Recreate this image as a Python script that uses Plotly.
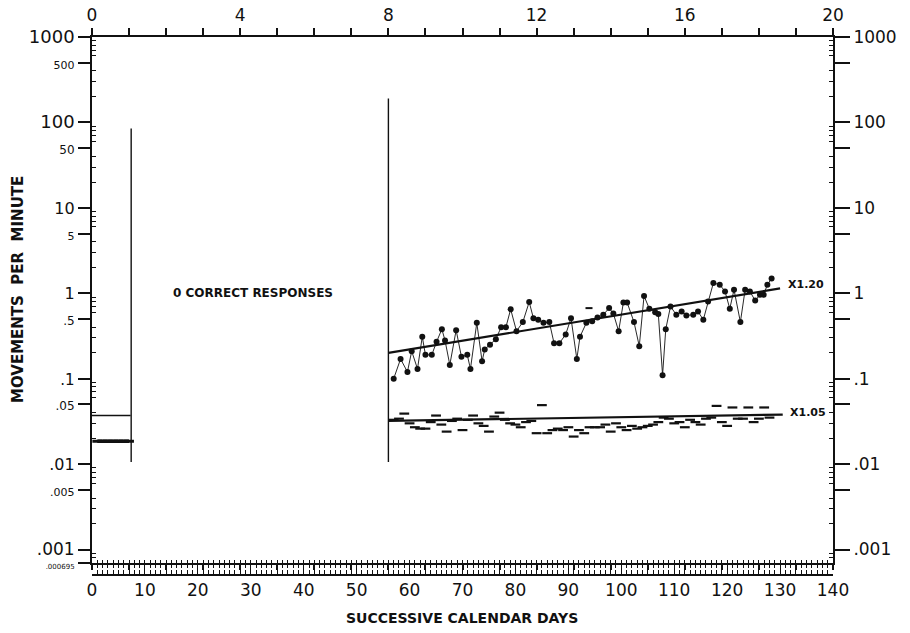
import math
import plotly.graph_objects as go

# ---------------- data ----------------
# correct responses (dots), days and movements per minute
days_correct = [57.0, 58.3, 59.6, 60.4, 61.5, 62.4, 63.0, 64.2, 65.1, 66.1, 66.7, 67.6, 68.8, 69.8,
                70.9, 71.5, 72.7, 73.7, 74.2, 75.2, 76.3, 77.3, 78.2, 79.1, 80.2, 81.4, 82.6, 83.4,
                84.3, 85.3, 86.4, 87.3, 88.3, 89.5, 90.5, 91.6, 92.2, 93.4, 94.5, 95.5, 96.6, 97.7,
                98.5, 99.5, 100.4, 101.1, 102.4, 103.4, 104.3, 105.3, 106.4, 107.0, 107.8, 108.4,
                109.3, 110.4, 111.4, 112.3, 113.6, 114.5, 115.5, 116.4, 117.4, 118.6, 119.6, 120.5,
                121.3, 122.5, 123.4, 124.3, 125.3, 126.2, 126.9, 127.6, 128.4]
rate_correct = [0.10, 0.17, 0.12, 0.21, 0.13, 0.31, 0.19, 0.19, 0.27, 0.38, 0.28, 0.145, 0.37, 0.18,
                0.19, 0.13, 0.45, 0.16, 0.22, 0.25, 0.29, 0.40, 0.40, 0.65, 0.36, 0.46, 0.79, 0.51,
                0.49, 0.45, 0.46, 0.26, 0.26, 0.33, 0.51, 0.17, 0.31, 0.45, 0.47, 0.52, 0.56, 0.67,
                0.58, 0.36, 0.78, 0.78, 0.46, 0.24, 0.93, 0.66, 0.60, 0.57, 0.11, 0.38,
                0.70, 0.56, 0.61, 0.55, 0.56, 0.61, 0.49, 0.80, 1.32, 1.26, 1.05, 0.66,
                1.10, 0.46, 1.10, 1.05, 0.82, 0.96, 0.96, 1.26, 1.49]

# errors (dashes)
days_error = list(range(57, 129))
rate_error = [0.033, 0.034, 0.039, 0.030, 0.027, 0.026, 0.026, 0.031, 0.037, 0.029, 0.024, 0.032,
              0.034, 0.025, 0.033, 0.037, 0.030, 0.028, 0.024, 0.036, 0.040, 0.033, 0.030, 0.029,
              0.027, 0.031, 0.032, 0.023, 0.049, 0.023, 0.025, 0.026, 0.025, 0.027, 0.021, 0.025,
              0.023, 0.027, 0.027, 0.027, 0.029, 0.024, 0.030, 0.027, 0.025, 0.028, 0.026, 0.027,
              0.028, 0.029, 0.031, 0.035, 0.034, 0.030, 0.031, 0.027, 0.033, 0.031, 0.029, 0.034,
              0.035, 0.048, 0.031, 0.028, 0.046, 0.034, 0.034, 0.046, 0.031, 0.034, 0.046, 0.035]

stray_day = [93.9]
stray_rate = [0.67]

# baseline phase (days 0-7)
base_floor_days = [0, 7.3]
base_floor_rate = [0.037, 0.037]
base_error_days = [1, 2, 3, 4, 5, 6, 7]
base_error_rate = [0.0185] * 7

# phase change lines
phase_days = [7.4, 56]
phase_low = [0.0106, 0.0106]
phase_high = [85, 190]

# celeration lines
cel_correct_days = [56, 130]
cel_correct_rate = [0.20, 1.14]
cel_error_days = [56, 130.5]
cel_error_rate = [0.032, 0.038]

# axis labels
left_vals = [1000, 500, 100, 50, 10, 5, 1, 0.5, 0.1, 0.05, 0.01, 0.005, 0.001, 0.000695]
left_text = ["1000", "500", "100", "50", "10", "5", "1", ".5", ".1", ".05", ".01", ".005", ".001", ".000695"]
left_size = [18, 11, 18, 12, 16, 11, 16, 12, 15, 12, 16, 11, 17, 7]
right_vals = [1000, 500, 100, 50, 10, 5, 1, 0.5, 0.1, 0.05, 0.01, 0.005, 0.001]
right_text = ["1000", "", "100", "", "10", "", "1", "", ".1", "", ".01", "", ".001"]
week_vals = list(range(0, 21))
week_text = [str(w) if w % 4 == 0 else "" for w in week_vals]
day_vals = list(range(0, 141, 10))
day_text = [str(d) for d in day_vals]

FONT = "DejaVu Sans"
BLACK = "#111111"
ymin = 0.000695
yrange = [math.log10(ymin), 3]
minor_vals = [m * 10 ** e for e in range(-4, 3) for m in (2, 3, 4, 6, 7, 8, 9) if ymin < m * 10 ** e < 1000]

fig = go.Figure()

# celeration lines
fig.add_trace(go.Scatter(x=cel_correct_days, y=cel_correct_rate, mode="lines",
                         line=dict(color=BLACK, width=2.2)))
fig.add_trace(go.Scatter(x=cel_error_days, y=cel_error_rate, mode="lines",
                         line=dict(color=BLACK, width=2.2)))
# correct dots
fig.add_trace(go.Scatter(x=days_correct, y=rate_correct, mode="lines+markers",
                         line=dict(color=BLACK, width=0.9),
                         marker=dict(symbol="circle", size=6, color=BLACK)))
# errors dashes
fig.add_trace(go.Scatter(x=days_error, y=rate_error, mode="markers",
                         marker=dict(symbol="line-ew", size=7, line=dict(width=2.2, color=BLACK))))
fig.add_trace(go.Scatter(x=stray_day, y=stray_rate, mode="markers",
                         marker=dict(symbol="line-ew", size=5, line=dict(width=2, color=BLACK))))
# baseline
fig.add_trace(go.Scatter(x=base_floor_days, y=base_floor_rate, mode="lines",
                         line=dict(color=BLACK, width=1.6)))
fig.add_trace(go.Scatter(x=base_error_days, y=base_error_rate, mode="lines+markers",
                         line=dict(color=BLACK, width=3.5),
                         marker=dict(symbol="line-ew", size=7, line=dict(width=3, color=BLACK))))
# phase lines
for d, lo, hi in zip(phase_days, phase_low, phase_high):
    fig.add_trace(go.Scatter(x=[d, d], y=[lo, hi], mode="lines",
                             line=dict(color=BLACK, width=1.4)))

# dummy traces so overlay axes are drawn
for xa, ya in [("x2", "y"), ("x3", "y"), ("x4", "y"), ("x", "y2"), ("x", "y3"), ("x", "y4")]:
    fig.add_trace(go.Scatter(x=[None], y=[None], xaxis=xa, yaxis=ya, showlegend=False))

# geometry (pixels)
plot_left, plot_right = 92, 833
plot_top, plot_bottom_axis, paper_bottom = 37, 563, 575
pw = plot_right - plot_left
ph = paper_bottom - plot_top
dom0 = (paper_bottom - plot_bottom_axis) / ph

fig.add_annotation(x=15, y=0, xref="x", yref="y", text="<b>0 CORRECT RESPONSES</b>",
                   showarrow=False, xanchor="left", yanchor="middle",
                   font=dict(family=FONT, size=12, color=BLACK))
fig.add_annotation(x=cel_correct_days[-1] + 1.2, y=math.log10(cel_correct_rate[-1]) + 0.05, xref="x", yref="y",
                   text="<b>X1.20</b>", showarrow=False, xanchor="left", yanchor="middle",
                   font=dict(family=FONT, size=11, color=BLACK))
fig.add_annotation(x=cel_error_days[-1] + 1.0, y=math.log10(cel_error_rate[-1]) + 0.02, xref="x", yref="y",
                   text="<b>X1.05</b>", showarrow=False, xanchor="left", yanchor="middle",
                   font=dict(family=FONT, size=11, color=BLACK))
fig.add_annotation(x=(18 - plot_left) / pw, y=(paper_bottom - 290) / ph, xref="paper", yref="paper",
                   text="MOVEMENTS  PER  MINUTE",
                   showarrow=False, textangle=-90, xanchor="center", yanchor="middle",
                   font=dict(family=FONT, size=15, color=BLACK, weight="bold"))
fig.add_annotation(x=(462 - plot_left) / pw, y=(paper_bottom - 618) / ph, xref="paper", yref="paper",
                   text="SUCCESSIVE CALENDAR DAYS",
                   showarrow=False, xanchor="center", yanchor="middle",
                   font=dict(family=FONT, size=14, color=BLACK, weight="bold"))

tickfont = dict(family=FONT, size=17, color=BLACK)
left_ticktext = [f"<span style='font-size:{s}px'>{t}</span>" for t, s in zip(left_text, left_size)]

fig.update_layout(
    width=910, height=633,
    margin=dict(l=plot_left, r=910 - plot_right, t=plot_top, b=633 - paper_bottom, autoexpand=False),
    paper_bgcolor="white", plot_bgcolor="white", showlegend=False,
    xaxis=dict(range=[0, 140], anchor="y", automargin=False, showgrid=False, zeroline=False, showline=True,
               linecolor=BLACK, linewidth=2, ticks="outside", tickvals=list(range(0, 141, 7)),
               ticklen=5, tickwidth=1.5, tickcolor=BLACK, showticklabels=False,
               minor=dict(dtick=1, ticks="outside", ticklen=3, tickcolor=BLACK, tickwidth=1)),
    xaxis4=dict(range=[0, 140], overlaying="x", anchor="y", automargin=False, showgrid=False, zeroline=False,
                showline=False, ticks="inside", dtick=1, ticklen=3, tickcolor=BLACK,
                showticklabels=False),
    xaxis3=dict(range=[0, 140], overlaying="x", anchor="free", position=0, automargin=False, showgrid=False,
                zeroline=False, showline=True, linecolor=BLACK, linewidth=1.5,
                ticks="inside", tickvals=day_vals, ticktext=day_text, ticklen=6, tickcolor=BLACK,
                tickfont=tickfont,
                minor=dict(dtick=1, ticks="inside", ticklen=4, tickcolor=BLACK)),
    xaxis2=dict(range=[0, 20], overlaying="x", side="top", anchor="y", automargin=False, showgrid=False,
                zeroline=False, showline=True, linecolor=BLACK, linewidth=2.2,
                ticks="outside", tickvals=week_vals, ticktext=week_text, ticklen=7,
                tickcolor=BLACK, tickwidth=1.5, tickfont=tickfont),
    yaxis=dict(type="log", range=yrange, domain=[dom0, 1], anchor="x", automargin=False, showgrid=False,
               zeroline=False, showline=True, linecolor=BLACK, linewidth=2,
               ticks="outside", tickvals=left_vals, ticktext=left_ticktext, ticklen=12,
               tickwidth=2, tickcolor=BLACK, tickfont=tickfont),
    yaxis2=dict(type="log", range=yrange, overlaying="y", anchor="x", automargin=False, showgrid=False,
                zeroline=False, showline=False, ticks="inside", tickvals=minor_vals,
                ticklen=4, tickcolor=BLACK, showticklabels=False),
    yaxis3=dict(type="log", range=yrange, overlaying="y", side="right", anchor="x", automargin=False,
                showgrid=False, zeroline=False, showline=True, linecolor=BLACK, linewidth=2,
                ticks="outside", tickvals=right_vals, ticktext=right_text, ticklen=15,
                tickwidth=2, tickcolor=BLACK, tickfont=tickfont),
    yaxis4=dict(type="log", range=yrange, overlaying="y", side="right", anchor="x", automargin=False,
                showgrid=False, zeroline=False, showline=False, ticks="inside",
                tickvals=minor_vals, ticklen=4, tickcolor=BLACK, showticklabels=False),
)

fig.write_html("out.html")
